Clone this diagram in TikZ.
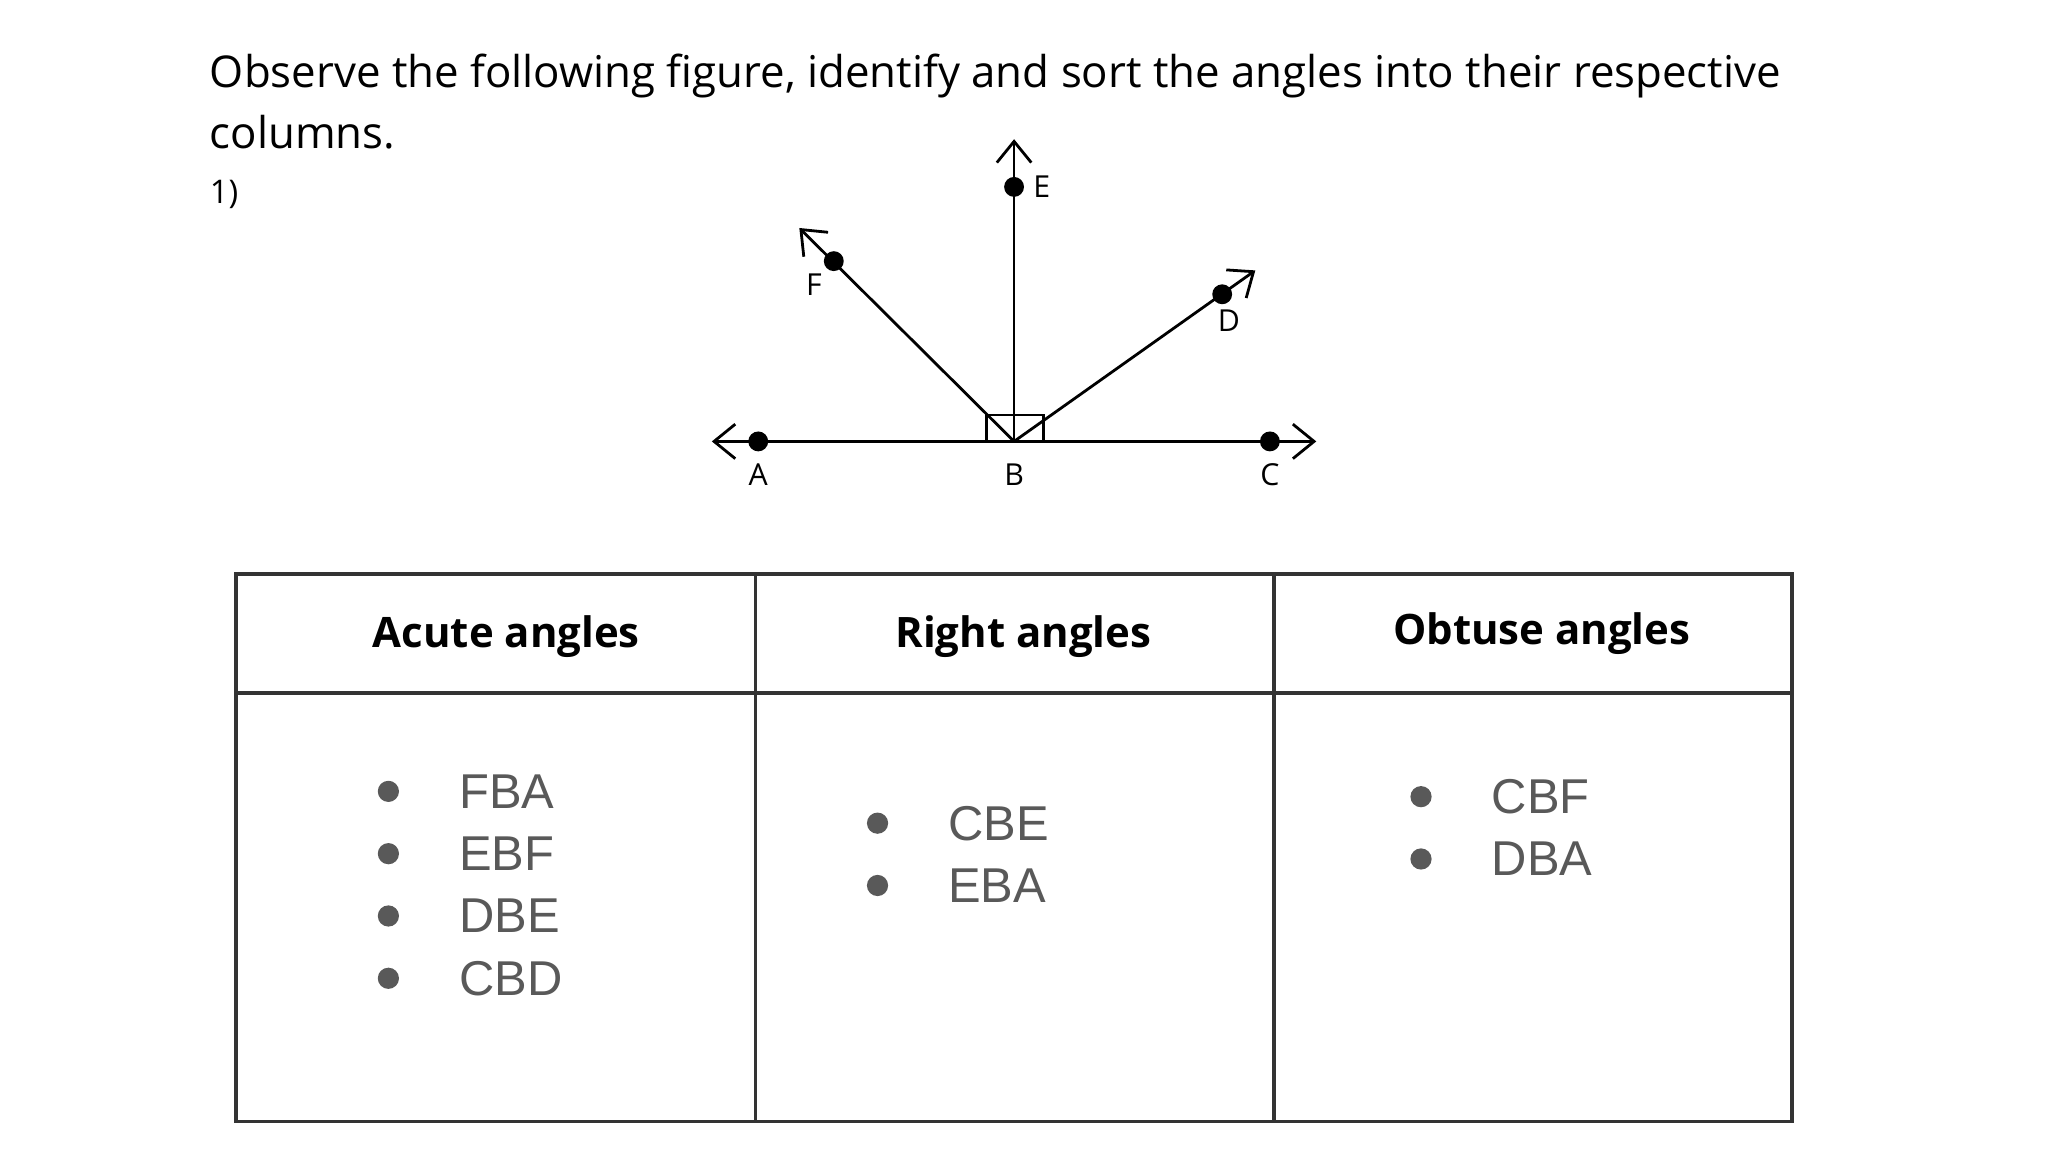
\documentclass[tikz,border=0pt]{standalone}
\usepackage{fontspec}
\setmainfont{Open Sans}
\newfontfamily\arialfont{Liberation Sans}
\usetikzlibrary{arrows.meta}
\begin{document}
\begin{tikzpicture}[x=1cm,y=-1cm,
    ray/.style={line width=0.6pt, -{Straight Barb[length=1.6mm,width=2.6mm]}},
    pt/.style={circle, fill, inner sep=0pt, minimum size=1.5mm},
    lbl/.style={font=\fontsize{6.5}{8}\selectfont},
    head/.style={font=\bfseries\fontsize{9}{11}\selectfont},
    item/.style={font=\arialfont\fontsize{10.5}{12}\selectfont, text=black!65, anchor=west},
    bul/.style={circle, fill=black!65, inner sep=0pt, minimum size=1.6mm}
]
    \useasboundingbox (0,0) rectangle (15.45,8.69);

    % Question text
    \node[anchor=west, font=\fontsize{9.4}{11}\selectfont] (q1) at (1.46,0.57) {Observe the following figure, identify and sort the angles into their respective};
    \node[anchor=west, font=\fontsize{9.4}{11}\selectfont] (q2) at (1.46,1.00) {columns.};
    \node[anchor=west, font=\fontsize{7}{8}\selectfont] (num) at (1.46,1.47) {1)};

    % Figure
    \coordinate (B) at (7.65,3.33);
    \coordinate (tipL) at (5.37,3.33);
    \coordinate (tipR) at (9.93,3.33);
    \coordinate (tipE) at (7.65,1.05);
    \coordinate (tipF) at (6.03,1.72);
    \coordinate (tipD) at (9.47,2.04);
    \draw[ray] (B) -- (tipL);
    \draw[ray] (B) -- (tipR);
    \draw[ray] (B) -- (tipE);
    \draw[ray] (B) -- (tipF);
    \draw[ray] (B) -- (tipD);
    \draw[line width=0.6pt] (7.44,3.13) rectangle (7.87,3.33);
    \node[pt] (A) at (5.72,3.33) {};
    \node[pt] (C) at (9.58,3.33) {};
    \node[pt] (E) at (7.65,1.41) {};
    \node[pt] (F) at (6.29,1.97) {};
    \node[pt] (D) at (9.22,2.22) {};
    \node[lbl] (lA) at (5.72,3.58) {A};
    \node[lbl] (lB) at (7.65,3.58) {B};
    \node[lbl] (lC) at (9.58,3.58) {C};
    \node[lbl] (lE) at (7.86,1.41) {E};
    \node[lbl] (lF) at (6.14,2.15) {F};
    \node[lbl] (lD) at (9.27,2.42) {D};

    % Table
    \draw[line width=0.8pt, black!80] (1.78,4.33) rectangle (13.52,8.46);
    \draw[line width=0.8pt, black!80] (1.78,5.23) -- (13.52,5.23);
    \draw[line width=0.8pt, black!80] (5.70,4.33) -- (5.70,8.46);
    \draw[line width=0.8pt, black!80] (9.61,4.33) -- (9.61,8.46);
    \node[head] (hAcute) at (3.82,4.80) {Acute angles};
    \node[head] (hRight) at (7.72,4.80) {Right angles};
    \node[head] (hObtuse) at (11.63,4.78) {Obtuse angles};

    \foreach \txt [count=\i] in {FBA,EBF,DBE,CBD}
        {\node[bul] at (2.93,{5.50+0.47*\i}) {};
         \node[item] at (3.34,{5.50+0.47*\i}) {\txt};}
    \foreach \txt [count=\i] in {CBE,EBA}
        {\node[bul] at (6.62,{5.74+0.47*\i}) {};
         \node[item] at (7.03,{5.74+0.47*\i}) {\txt};}
    \foreach \txt [count=\i] in {CBF,DBA}
        {\node[bul] at (10.72,{5.54+0.47*\i}) {};
         \node[item] at (11.13,{5.54+0.47*\i}) {\txt};}
\end{tikzpicture}
\end{document}
